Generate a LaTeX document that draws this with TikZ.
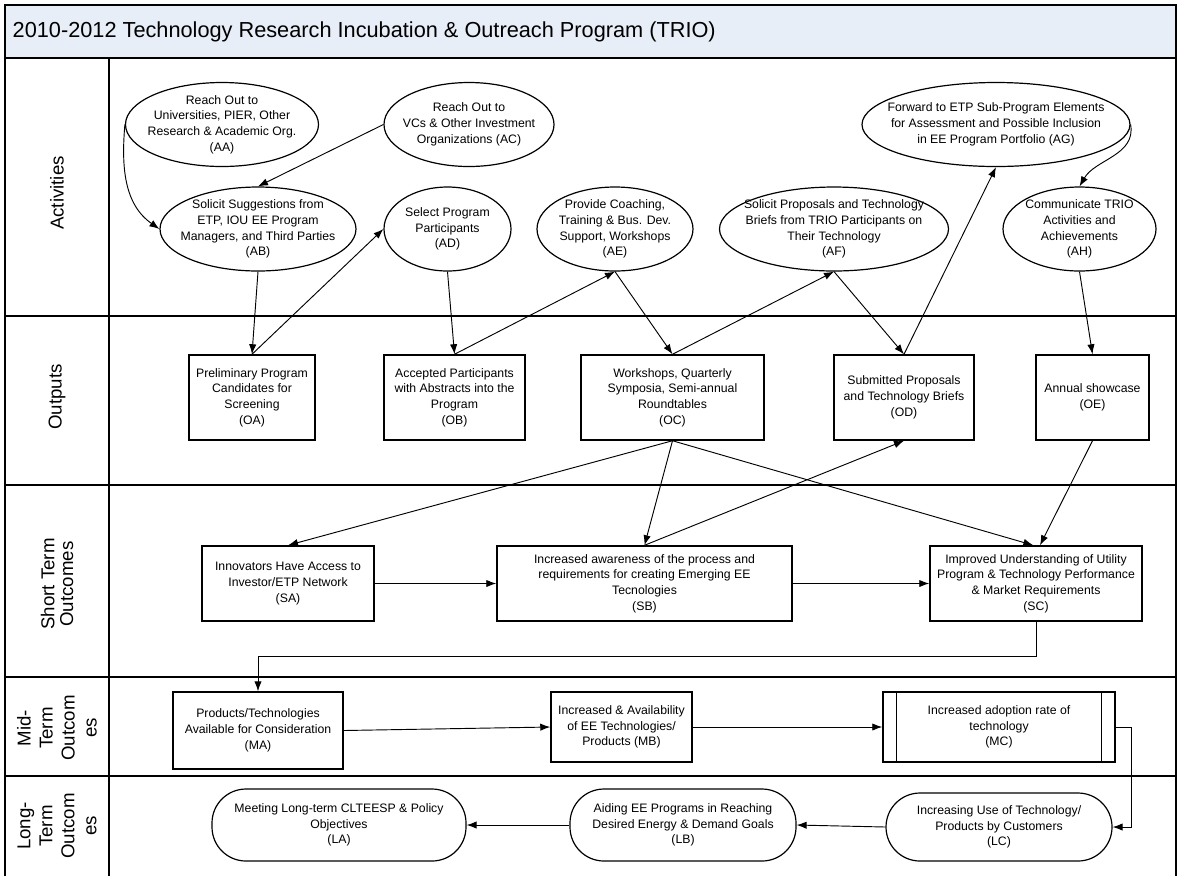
\documentclass[tikz,border=0pt]{standalone}
\usepackage{fontspec}
\setmainfont{Liberation Sans}
\usetikzlibrary{arrows.meta,shapes.geometric}
\definecolor{titlebg}{RGB}{232,238,247}

\begin{document}
\begin{tikzpicture}[x=0.75pt, y=-0.75pt, >={Latex[length=7.5pt,width=5.5pt]}, auto,
    every node/.style={font=\fontsize{9.2}{11.8}\selectfont, align=center},
    act/.style={ellipse, draw, line width=0.9pt, inner xsep=-20pt, inner ysep=-10pt, minimum height=63pt},
    outbox/.style={rectangle, draw, line width=1.1pt, inner sep=0pt, minimum height=63.75pt},
    stbox/.style={rectangle, draw, line width=1.1pt, inner sep=0pt, minimum height=56.25pt},
    midbox/.style={rectangle, draw, line width=1.1pt, inner sep=0pt},
    goal/.style={rectangle, rounded corners=25.5pt, draw, line width=0.9pt, inner sep=0pt, minimum height=54pt},
    lane/.style={rotate=90, font=\fontsize{14}{16.5}\selectfont},
    link/.style={->, line width=0.7pt}]

    \useasboundingbox (0,0) rectangle (1177,876);

    % Frame, title and lanes
    \fill [titlebg] (5,5) rectangle (1176,58);
    \draw [line width=1.4pt] (5,876) -- (5,5) -- (1176,5) -- (1176,876);
    \foreach \y in {58,316,485,677,776}
        \draw [line width=1.4pt] (5,\y) -- (1176,\y);
    \draw [line width=1.4pt] (109,58) -- (109,876);

    \node [anchor=west, font=\fontsize{16.3}{19}\selectfont] (title) at (8,32)
        {2010-2012 Technology Research Incubation \& Outreach Program (TRIO)};

    \node [lane] (lnAct)   at (57,193) {Activities};
    \node [lane] (lnOut)   at (57,397) {Outputs};
    \node [lane, font=\fontsize{14}{14}\selectfont] (lnShort) at (57,584) {Short Term\\Outcomes};
    \node [lane] (lnMid)   at (57,728) {Mid-\\Term\\Outcom\\es};
    \node [lane] (lnLong)  at (57,826) {Long-\\Term\\Outcom\\es};

    % Activities {AA, AB, ..., AH}
    \node [act, minimum width=144.75pt] (AA) at (222,124.5) {Reach Out to\\Universities, PIER, Other\\Research \& Academic Org.\\(AA)};
    \node [act, minimum width=127.5pt]  (AC) at (469,124.5) {Reach Out to\\VCs \& Other Investment\\Organizations (AC)};
    \node [act, minimum width=201pt]    (AG) at (996,124.5) {Forward to ETP Sub-Program Elements\\for Assessment and Possible Inclusion\\in EE Program Portfolio (AG)};
    \node [act, minimum width=147pt]    (AB) at (258,229)   {Solicit Suggestions from\\ETP, IOU EE Program\\Managers, and Third Parties\\(AB)};
    \node [act, minimum width=95.25pt]  (AD) at (447.5,229) {Select Program\\Participants\\(AD)};
    \node [act, minimum width=117pt]    (AE) at (615,229)   {Provide Coaching,\\Training \& Bus. Dev.\\Support, Workshops\\(AE)};
    \node [act, minimum width=171.75pt] (AF) at (834,229)   {Solicit Proposals and Technology\\Briefs from TRIO Participants on\\Their Technology\\(AF)};
    \node [act, minimum width=114.75pt] (AH) at (1079.5,229) {Communicate TRIO\\Activities and\\Achievements\\(AH)};

    % Outputs {OA, ..., OE}
    \node [outbox, minimum width=94.5pt]   (OA) at (252,397.5)  {Preliminary Program\\Candidates for\\Screening\\(OA)};
    \node [outbox, minimum width=105.75pt] (OB) at (454.5,397.5) {Accepted Participants\\with Abstracts into the\\Program\\(OB)};
    \node [outbox, minimum width=137.25pt] (OC) at (672.5,397.5) {Workshops, Quarterly\\Symposia, Semi-annual\\Roundtables\\(OC)};
    \node [outbox, minimum width=105pt]    (OD) at (904,397.5)  {Submitted Proposals\\and Technology Briefs\\(OD)};
    \node [outbox, minimum width=84.75pt]  (OE) at (1092.5,397.5) {Annual showcase\\(OE)};

    % Short term outcomes {SA, SB, SC}
    \node [stbox, minimum width=129pt]    (SA) at (288,583.5)   {Innovators Have Access to\\Investor/ETP Network\\(SA)};
    \node [stbox, minimum width=221.25pt] (SB) at (644.5,583.5) {Increased awareness of the process and\\requirements for creating Emerging EE\\Tecnologies\\(SB)};
    \node [stbox, minimum width=159pt]    (SC) at (1036,583.5)  {Improved Understanding of Utility\\Program \& Technology Performance\\\& Market Requirements\\(SC)};

    % Mid term outcomes {MA, MB, MC}
    \node [midbox, minimum width=127.5pt, minimum height=57.75pt] (MA) at (258,730.5) {Products/Technologies\\Available for Consideration\\(MA)};
    \node [midbox, minimum width=105.75pt, minimum height=52.5pt] (MB) at (621.5,727) {Increased \& Availability\\of EE Technologies/\\Products (MB)};
    \node [midbox, minimum width=174pt, minimum height=52.5pt]    (MC) at (999,727)   {Increased adoption rate of\\technology\\(MC)};
    \draw [line width=1.1pt] ([xshift=10.5pt]MC.north west) -- ([xshift=10.5pt]MC.south west);
    \draw [line width=1.1pt] ([xshift=-10.5pt]MC.north east) -- ([xshift=-10.5pt]MC.south east);

    % Long term outcomes {LA, LB, LC}
    \node [goal, minimum width=190.5pt] (LA) at (339,825) {Meeting Long-term CLTEESP \& Policy\\Objectives\\(LA)};
    \node [goal, minimum width=169.5pt] (LB) at (683,825) {Aiding EE Programs in Reaching\\Desired Energy \& Demand Goals\\(LB)};
    \node [goal, minimum width=169.5pt, minimum height=51pt] (LC) at (999,827) {Increasing Use of Technology/\\Products by Customers\\(LC)};

    % Paths
    \path [link] (AA.west)  edge [out=265, in=145] (AB.west);
    \path [link] (AC.west)  edge (AB.north);
    \path [link] (AB.south) edge (OA.north);
    \path [link] (OA.north) edge (AD.west);
    \path [link] (AD.south) edge (OB.north);
    \path [link] (OB.north) edge (AE.south);
    \path [link] (AE.south) edge (OC.north);
    \path [link] (OC.north) edge (AF.south);
    \path [link] (AF.south) edge (OD.north);
    \path [link] (OD.north) edge (AG.south);
    \path [link] (AG.east)  edge [out=280, in=60] (AH.north);
    \path [link] (AH.south) edge (OE.north);

    \path [link] (OC.south) edge (SA.north);
    \path [link] (OC.south) edge (SB.north);
    \path [link] (OC.south) edge ([xshift=-2pt]SC.north);
    \path [link] (SB.north) edge (OD.south);
    \path [link] (OE.south) edge ([xshift=3pt]SC.north);
    \path [link] (SA.east)  edge (SB.west);
    \path [link] (SB.east)  edge (SC.west);

    \draw [link] (SC.south) -- ++(0,35) -| (MA.north);
    \path [link] (MA.east)  edge (MB.west);
    \path [link] (MB.east)  edge (MC.west);
    \draw [link] (MC.east) -- ++(16,0) |- (LC.east);
    \path [link] (LC.west)  edge (LB.east);
    \path [link] (LB.west)  edge (LA.east);

\end{tikzpicture}
\end{document}
